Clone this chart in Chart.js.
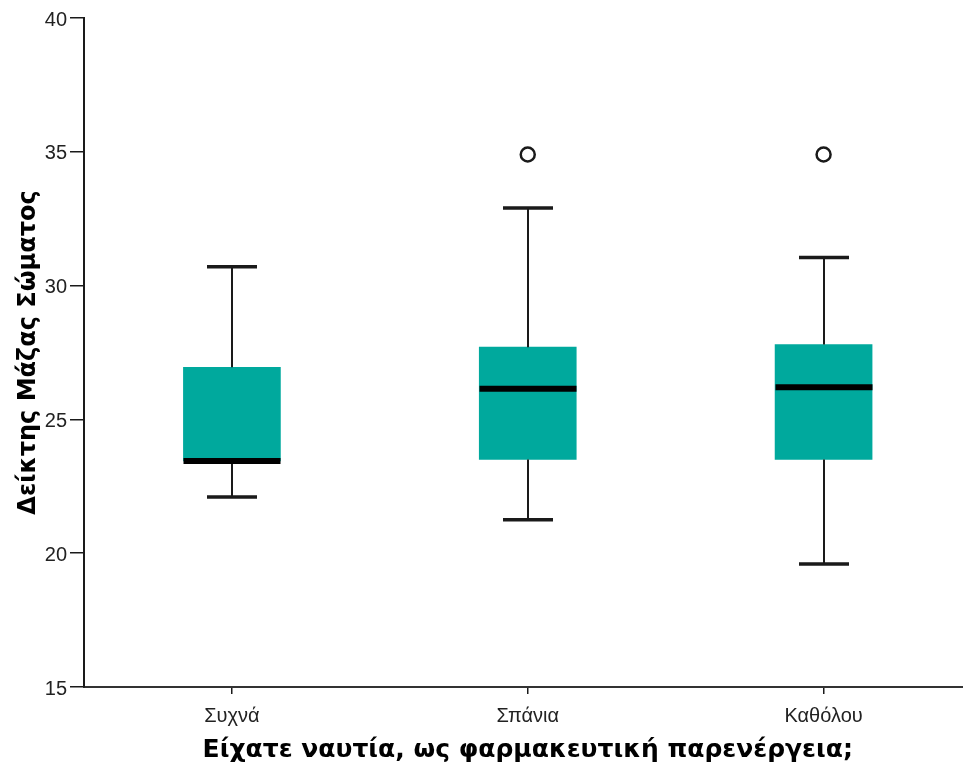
<!DOCTYPE html>
<html>
<head>
<meta charset="utf-8">
<title>Δείκτης Μάζας Σώματος</title>
<script src="https://cdn.jsdelivr.net/npm/chart.js@4.4.1/dist/chart.umd.min.js"></script>
<style>
  html, body { margin:0; padding:0; background:#fff; overflow:hidden; }
  #wrap { width:963px; height:769px; overflow:hidden; }
</style>
</head>
<body>
<div id="wrap"><canvas id="bmi" width="981" height="769"></canvas></div>
<script>
// groups on the x axis
const groups = ["Συχνά", "Σπάνια", "Καθόλου"];

// five-number summaries per group
const whiskerLow  = [22.1, 21.25, 19.6];
const q1          = [23.45, 23.5, 23.5];
const median      = [23.45, 26.15, 26.2];
const q3          = [26.95, 27.7, 27.8];
const whiskerHigh = [30.7, 32.9, 31.05];

// outliers (null where a group has none)
const outliers = [null, 34.9, 34.9];

const yTicks = [15, 20, 25, 30, 35, 40];

const teal = "#00a99d";
const ink = "#1a1a1a";

// whiskers, caps and median bars drawn on top of the boxes
const boxLines = {
  id: "boxLines",
  afterDatasetsDraw(chart){
    const ctx = chart.ctx, x = chart.scales.x, y = chart.scales.y;
    const boxW = 97, capW = 50;
    ctx.save();
    ctx.strokeStyle = ink;
    groups.forEach((g, i) => {
      const cx = Math.round(x.getPixelForValue(i));
      // upper and lower whisker stems
      ctx.lineWidth = 2;
      ctx.beginPath();
      ctx.moveTo(cx, y.getPixelForValue(q3[i]));
      ctx.lineTo(cx, y.getPixelForValue(whiskerHigh[i]));
      ctx.moveTo(cx, y.getPixelForValue(q1[i]));
      ctx.lineTo(cx, y.getPixelForValue(whiskerLow[i]));
      ctx.stroke();
      // caps
      ctx.lineWidth = 3.5;
      ctx.beginPath();
      ctx.moveTo(cx - capW/2, y.getPixelForValue(whiskerHigh[i]));
      ctx.lineTo(cx + capW/2, y.getPixelForValue(whiskerHigh[i]));
      ctx.moveTo(cx - capW/2, y.getPixelForValue(whiskerLow[i]));
      ctx.lineTo(cx + capW/2, y.getPixelForValue(whiskerLow[i]));
      ctx.stroke();
      // median
      ctx.lineWidth = 6;
      ctx.strokeStyle = "#000";
      ctx.beginPath();
      ctx.moveTo(cx - boxW/2, y.getPixelForValue(median[i]));
      ctx.lineTo(cx + boxW/2, y.getPixelForValue(median[i]));
      ctx.stroke();
      ctx.strokeStyle = ink;
    });
    ctx.restore();
  }
};

new Chart(document.getElementById("bmi"), {
  data: {
    labels: groups,
    datasets: [
      {
        type: "bar",
        data: groups.map((g, i) => [q1[i], q3[i]]),
        backgroundColor: teal,
        borderWidth: 0,
        barThickness: 97,
        order: 2
      },
      {
        type: "line",
        data: outliers,
        showLine: false,
        pointRadius: 7,
        pointBorderWidth: 2.5,
        pointBorderColor: ink,
        pointBackgroundColor: "#fff",
        order: 1
      }
    ]
  },
  options: {
    responsive: false,
    animation: false,
    layout: { padding: { top: 18, right: 3, left: 0, bottom: 0 } },
    plugins: { legend: { display: false }, tooltip: { enabled: false } },
    scales: {
      x: {
        offset: true,
        afterFit(s){ s.height = 82; },
        grid: { offset: false, drawOnChartArea: false, tickLength: 7, color: ink, lineWidth: 1.5 },
        border: { color: "#333", width: 2 },
        ticks: { color: "#222", padding: 10, font: { family: "Liberation Sans", size: 20 } },
        title: {
          display: true,
          text: "Είχατε ναυτία, ως φαρμακευτική παρενέργεια;",
          color: "#000",
          padding: { top: 0, bottom: 4 },
          font: { family: "DejaVu Sans", size: 25, weight: "bold" }
        }
      },
      y: {
        min: 15,
        max: 40,
        afterFit(s){ s.width = 84; },
        afterBuildTicks(s){ s.ticks = yTicks.map(v => ({ value: v })); },
        grid: { drawOnChartArea: false, tickLength: 14, color: ink, lineWidth: 1.5 },
        border: { color: ink, width: 2 },
        ticks: { color: "#222", padding: 3, labelOffset: 2, font: { family: "Liberation Sans", size: 20 } },
        title: {
          display: true,
          text: "Δείκτης Μάζας Σώματος",
          color: "#000",
          padding: { top: 14, bottom: 0 },
          font: { family: "DejaVu Sans", size: 24, weight: "bold" }
        }
      }
    }
  },
  plugins: [boxLines]
});
</script>
</body>
</html>
